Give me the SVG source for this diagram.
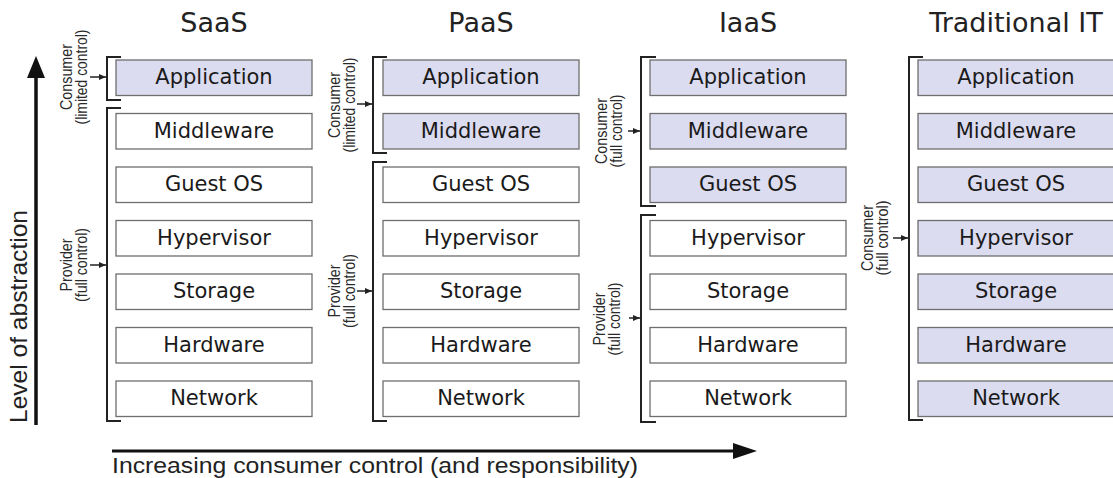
<svg xmlns="http://www.w3.org/2000/svg" width="1113" height="478" viewBox="0 0 1113 478">
<style>
.bg{fill:#ffffff}
.box{fill:#ffffff;stroke:#6e6e6e;stroke-width:1.3}
.box.c{fill:#dcdcf0}
.bt{font-family:"DejaVu Sans",sans-serif;font-size:21px;fill:#1a1a1a;text-anchor:middle}
.title{font-family:"DejaVu Sans",sans-serif;font-size:27px;fill:#222;text-anchor:middle}
.br{fill:none;stroke:#222;stroke-width:2}
.ar{stroke:#222;stroke-width:1.5;fill:none}
.lbl{font-family:"Liberation Sans",Arial,sans-serif;font-size:16px;fill:#2a2a2a;text-anchor:middle}
.axis{stroke:#111;stroke-width:3.5;fill:none}
.axt{font-family:"Liberation Sans",Arial,sans-serif;fill:#222}
</style>
<defs>
<marker id="sm" markerWidth="8" markerHeight="8" refX="7" refY="4" orient="auto" markerUnits="userSpaceOnUse">
<path d="M0,1 L7,4 L0,7 Z" fill="#222"/>
</marker>
</defs>
<rect class="bg" x="0" y="0" width="1113" height="478"/>

<g id="titles">
<text class="title" x="214" y="32">SaaS</text>
<text class="title" x="481" y="32">PaaS</text>
<text class="title" x="748" y="32">IaaS</text>
<text class="title" x="1016" y="32">Traditional IT</text>
</g>

<g id="saas">
<g id="saas-application"><rect class="box c" x="116" y="60" width="196" height="35.5"/><text class="bt" x="214" y="84">Application</text></g>
<g id="saas-middleware"><rect class="box" x="116" y="113.5" width="196" height="35.5"/><text class="bt" x="214" y="137.5">Middleware</text></g>
<g id="saas-guestos"><rect class="box" x="116" y="167" width="196" height="35.5"/><text class="bt" x="214" y="191">Guest OS</text></g>
<g id="saas-hypervisor"><rect class="box" x="116" y="220.5" width="196" height="35.5"/><text class="bt" x="214" y="244.5">Hypervisor</text></g>
<g id="saas-storage"><rect class="box" x="116" y="274" width="196" height="35.5"/><text class="bt" x="214" y="298">Storage</text></g>
<g id="saas-hardware"><rect class="box" x="116" y="327.5" width="196" height="35.5"/><text class="bt" x="214" y="351.5">Hardware</text></g>
<g id="saas-network"><rect class="box" x="116" y="381" width="196" height="35.5"/><text class="bt" x="214" y="405">Network</text></g>
</g>

<g id="paas">
<g id="paas-application"><rect class="box c" x="383" y="60" width="196" height="35.5"/><text class="bt" x="481" y="84">Application</text></g>
<g id="paas-middleware"><rect class="box c" x="383" y="113.5" width="196" height="35.5"/><text class="bt" x="481" y="137.5">Middleware</text></g>
<g id="paas-guestos"><rect class="box" x="383" y="167" width="196" height="35.5"/><text class="bt" x="481" y="191">Guest OS</text></g>
<g id="paas-hypervisor"><rect class="box" x="383" y="220.5" width="196" height="35.5"/><text class="bt" x="481" y="244.5">Hypervisor</text></g>
<g id="paas-storage"><rect class="box" x="383" y="274" width="196" height="35.5"/><text class="bt" x="481" y="298">Storage</text></g>
<g id="paas-hardware"><rect class="box" x="383" y="327.5" width="196" height="35.5"/><text class="bt" x="481" y="351.5">Hardware</text></g>
<g id="paas-network"><rect class="box" x="383" y="381" width="196" height="35.5"/><text class="bt" x="481" y="405">Network</text></g>
</g>

<g id="iaas">
<g id="iaas-application"><rect class="box c" x="650" y="60" width="196" height="35.5"/><text class="bt" x="748" y="84">Application</text></g>
<g id="iaas-middleware"><rect class="box c" x="650" y="113.5" width="196" height="35.5"/><text class="bt" x="748" y="137.5">Middleware</text></g>
<g id="iaas-guestos"><rect class="box c" x="650" y="167" width="196" height="35.5"/><text class="bt" x="748" y="191">Guest OS</text></g>
<g id="iaas-hypervisor"><rect class="box" x="650" y="220.5" width="196" height="35.5"/><text class="bt" x="748" y="244.5">Hypervisor</text></g>
<g id="iaas-storage"><rect class="box" x="650" y="274" width="196" height="35.5"/><text class="bt" x="748" y="298">Storage</text></g>
<g id="iaas-hardware"><rect class="box" x="650" y="327.5" width="196" height="35.5"/><text class="bt" x="748" y="351.5">Hardware</text></g>
<g id="iaas-network"><rect class="box" x="650" y="381" width="196" height="35.5"/><text class="bt" x="748" y="405">Network</text></g>
</g>

<g id="trad">
<g id="trad-application"><rect class="box c" x="918" y="60" width="196" height="35.5"/><text class="bt" x="1016" y="84">Application</text></g>
<g id="trad-middleware"><rect class="box c" x="918" y="113.5" width="196" height="35.5"/><text class="bt" x="1016" y="137.5">Middleware</text></g>
<g id="trad-guestos"><rect class="box c" x="918" y="167" width="196" height="35.5"/><text class="bt" x="1016" y="191">Guest OS</text></g>
<g id="trad-hypervisor"><rect class="box c" x="918" y="220.5" width="196" height="35.5"/><text class="bt" x="1016" y="244.5">Hypervisor</text></g>
<g id="trad-storage"><rect class="box c" x="918" y="274" width="196" height="35.5"/><text class="bt" x="1016" y="298">Storage</text></g>
<g id="trad-hardware"><rect class="box c" x="918" y="327.5" width="196" height="35.5"/><text class="bt" x="1016" y="351.5">Hardware</text></g>
<g id="trad-network"><rect class="box c" x="918" y="381" width="196" height="35.5"/><text class="bt" x="1016" y="405">Network</text></g>
</g>

<g id="connectors">
<path class="br" d="M121,57 H107 V100 H121"/>
<path class="br" d="M121,108 H107 V421 H121"/>
<path class="br" d="M387,57 H373 V153 H387"/>
<path class="br" d="M387,162 H373 V421 H387"/>
<path class="br" d="M656,57 H641 V206 H656"/>
<path class="br" d="M656,215 H641 V422 H656"/>
<path class="br" d="M923,57 H909 V420 H923"/>
<line class="ar" x1="90" y1="77" x2="106" y2="77" marker-end="url(#sm)"/>
<line class="ar" x1="90" y1="265" x2="106" y2="265" marker-end="url(#sm)"/>
<line class="ar" x1="357" y1="104" x2="372" y2="104" marker-end="url(#sm)"/>
<line class="ar" x1="357" y1="291" x2="372" y2="291" marker-end="url(#sm)"/>
<line class="ar" x1="628" y1="131" x2="640" y2="131" marker-end="url(#sm)"/>
<line class="ar" x1="629" y1="318" x2="640" y2="318" marker-end="url(#sm)"/>
<line class="ar" x1="893" y1="238" x2="908" y2="238" marker-end="url(#sm)"/>
</g>

<g id="labels">
<g transform="translate(0,77) rotate(-90)"><text class="lbl" x="0" y="72" textLength="66" lengthAdjust="spacingAndGlyphs">Consumer</text><text class="lbl" x="0" y="86.5" textLength="95" lengthAdjust="spacingAndGlyphs">(limited control)</text></g>
<g transform="translate(0,265) rotate(-90)"><text class="lbl" x="0" y="72" textLength="53" lengthAdjust="spacingAndGlyphs">Provider</text><text class="lbl" x="0" y="86.5" textLength="74" lengthAdjust="spacingAndGlyphs">(full control)</text></g>
<g transform="translate(0,105) rotate(-90)"><text class="lbl" x="0" y="340" textLength="66" lengthAdjust="spacingAndGlyphs">Consumer</text><text class="lbl" x="0" y="354.5" textLength="95" lengthAdjust="spacingAndGlyphs">(limited control)</text></g>
<g transform="translate(0,291) rotate(-90)"><text class="lbl" x="0" y="340" textLength="53" lengthAdjust="spacingAndGlyphs">Provider</text><text class="lbl" x="0" y="354.5" textLength="74" lengthAdjust="spacingAndGlyphs">(full control)</text></g>
<g transform="translate(0,131) rotate(-90)"><text class="lbl" x="0" y="607" textLength="66" lengthAdjust="spacingAndGlyphs">Consumer</text><text class="lbl" x="0" y="621.5" textLength="73" lengthAdjust="spacingAndGlyphs">(full control)</text></g>
<g transform="translate(0,319) rotate(-90)"><text class="lbl" x="0" y="605" textLength="53" lengthAdjust="spacingAndGlyphs">Provider</text><text class="lbl" x="0" y="619.5" textLength="73" lengthAdjust="spacingAndGlyphs">(full control)</text></g>
<g transform="translate(0,238) rotate(-90)"><text class="lbl" x="0" y="873" textLength="66" lengthAdjust="spacingAndGlyphs">Consumer</text><text class="lbl" x="0" y="887.5" textLength="75" lengthAdjust="spacingAndGlyphs">(full control)</text></g>
</g>

<g id="axes">
<line class="axis" x1="36" y1="425" x2="36" y2="72"/>
<path d="M36,56 L45,78 L27,78 Z" fill="#111"/>
<text class="axt" font-size="24" transform="translate(27,423) rotate(-90)" x="0" y="0" textLength="213" lengthAdjust="spacingAndGlyphs">Level of abstraction</text>
<line class="axis" x1="112" y1="451" x2="740" y2="451" style="stroke-width:3"/>
<path d="M757,451 L733,443 L733,459 Z" fill="#111"/>
<text class="axt" font-size="22" x="112" y="473" textLength="526" lengthAdjust="spacingAndGlyphs">Increasing consumer control (and responsibility)</text>
</g>
</svg>
